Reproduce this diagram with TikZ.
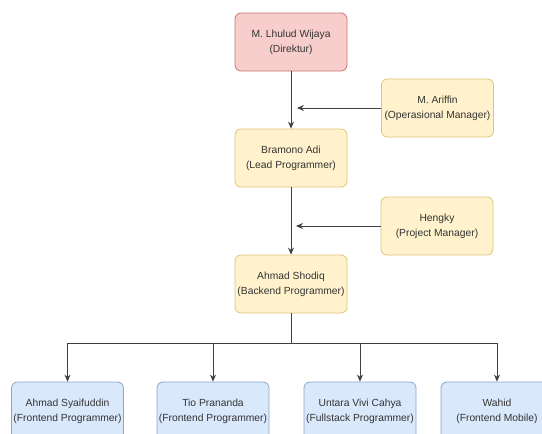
\documentclass[tikz,border=0pt]{standalone}
\usepackage{fontspec}
\setmainfont{Liberation Sans}
\usetikzlibrary{arrows.meta}
\definecolor{redfill}{HTML}{F8CECC}
\definecolor{redline}{HTML}{B85450}
\definecolor{yelfill}{HTML}{FFF2CC}
\definecolor{yelline}{HTML}{D6B656}
\definecolor{bluefill}{HTML}{DAE8FC}
\definecolor{blueline}{HTML}{6C8EBF}
\definecolor{txt}{HTML}{333333}
\tikzset{
  person/.style={rounded corners=6pt, minimum width=112pt, minimum height=58pt,
    align=center, inner sep=0pt, font=\fontsize{10.3pt}{15pt}\selectfont, text=txt, line width=0.8pt},
  redbox/.style={person, draw=redline!80, fill=redfill},
  yelbox/.style={person, draw=yelline!80, fill=yelfill},
  bluebox/.style={person, draw=blueline!80, fill=bluefill},
  conn/.style={draw=black!75, line width=0.9pt},
  arr/.style={conn, -{Stealth[length=7pt,width=6pt]}}
}
\begin{document}
\begin{tikzpicture}[x=1pt,y=-1pt]
\useasboundingbox (0,0) rectangle (542,434);
\node[redbox] (dir) at (291,42) {M. Lhulud Wijaya\\(Direktur)};
\node[yelbox] (ariffin) at (437.5,108) {M. Ariffin\\(Operasional Manager)};
\node[yelbox] (bramono) at (291,158) {Bramono Adi\\(Lead Programmer)};
\node[yelbox] (hengky) at (437,226) {Hengky\\(Project Manager)};
\node[yelbox] (shodiq) at (291,284) {Ahmad Shodiq\\(Backend Programmer)};
\node[bluebox] (b1) at (67.5,411) {Ahmad Syaifuddin\\(Frontend Programmer)};
\node[bluebox] (b2) at (213,411) {Tio Prananda\\(Frontend Programmer)};
\node[bluebox] (b3) at (360,411) {Untara Vivi Cahya\\(Fullstack Programmer)};
\node[bluebox] (b4) at (497,411) {Wahid\\(Frontend Mobile)};
\coordinate (t1) at (297,108);
\coordinate (t2) at (296,226);
\coordinate (jn) at (291,343);
\draw[arr] (dir) -- (bramono);
\draw[arr] (ariffin.west) -- (t1);
\draw[arr] (bramono) -- (shodiq);
\draw[arr] (hengky.west) -- (t2);
\draw[conn] (shodiq.south) -- (jn);
\draw[arr] (jn) -| (b1.north);
\draw[arr] (jn) -| (b2.north);
\draw[arr] (jn) -| (b3.north);
\draw[arr] (jn) -| (b4.north);
\end{tikzpicture}
\end{document}
